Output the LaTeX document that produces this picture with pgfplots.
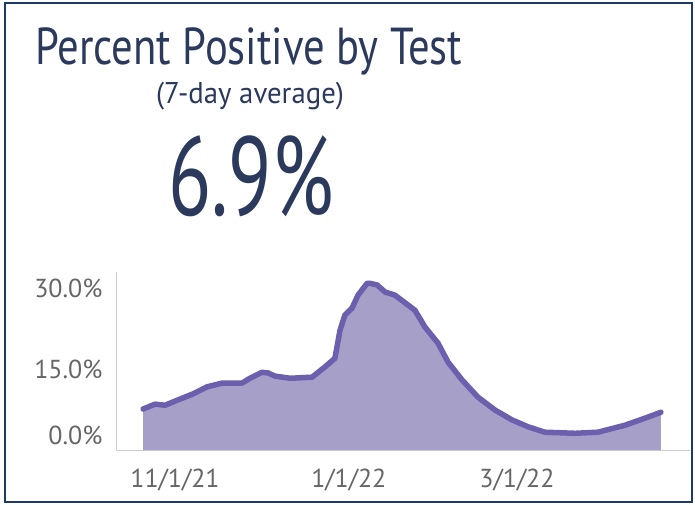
\documentclass[border=0pt]{standalone}
\usepackage{fontspec}
\setmainfont{PT Sans}
\usepackage{pgfplots}
\pgfplotsset{compat=1.18}
\usepackage{pgfplotstable}

\definecolor{navy}{HTML}{2B3A5C}
\definecolor{frame}{HTML}{1F3A66}
\definecolor{areafill}{HTML}{A69FC8}
\definecolor{linecol}{HTML}{6B5FAE}
\definecolor{ticktext}{HTML}{666666}
\definecolor{axisgray}{HTML}{CCCCCC}

% day 0 = 11/1/21, value in percent
\pgfplotstableread{
day value
-11.2 7.6
-7.0 8.5
-3.5 8.3
1.1 9.3
6.3 10.4
11.2 11.7
16.5 12.4
23.5 12.4
26.3 13.3
30.5 14.4
32.6 14.3
35.1 13.7
40.4 13.3
48.1 13.5
52.6 15.4
56.1 17.0
57.9 22.2
59.6 25.0
62.1 26.3
64.2 28.7
67.4 30.9
68.4 30.9
70.9 30.6
73.7 29.3
77.2 28.7
84.2 25.9
87.7 22.8
92.3 19.8
95.8 16.3
100.7 13.0
106.3 9.8
112.3 7.4
118.2 5.6
123.9 4.3
129.8 3.3
140.4 3.1
148.4 3.3
157.9 4.6
164.9 5.9
170.5 7.0
}\ppt

\begin{document}
\begin{tikzpicture}[x=1pt,y=1pt]
\path[use as bounding box] (0,0) rectangle (695,504);
\draw[frame, line width=2.5pt] (5,2) rectangle (692,501);

\node[anchor=base west, inner sep=0, text=navy, font=\fontsize{52}{58}\selectfont] at (35,439) {\scalebox{0.82}[1]{Percent Positive by Test}};
\node[anchor=base, inner sep=0, text=navy, font=\fontsize{30}{34}\selectfont] at (250,400) {\scalebox{0.96}[1]{(7-day average)}};
\node[anchor=base, inner sep=0, text=navy, font=\fontsize{112}{120}\selectfont] at (251,289) {\scalebox{0.71}[1]{6.9\%}};

\begin{axis}[
  at={(116pt,54pt)}, anchor=south west,
  scale only axis, width=574pt, height=178pt,
  xmin=-20.7, xmax=180.7, ymin=0, ymax=33,
  axis x line*=bottom, axis y line*=left,
  axis line style={draw=axisgray, line width=1pt, -},
  major tick length=0,
  xtick={0,61,120}, xticklabels={11/1/21,1/1/22,3/1/22},
  ytick={15,30}, yticklabels={15.0\%,30.0\%},
  extra y ticks={0}, extra y tick labels={0.0\%},
  extra y tick style={yticklabel style={yshift=15pt}},
  tick label style={text=ticktext, font=\fontsize{26}{30}\selectfont},
  xticklabel style={anchor=north, yshift=-15pt},
  yticklabel style={anchor=east, xshift=-10pt},
  clip=false,
]
\addplot[fill=areafill, draw=none] table[x=day, y=value] {\ppt} \closedcycle;
\addplot[linecol, line width=5.5pt, line join=round, line cap=round] table[x=day, y=value] {\ppt};
\end{axis}
\end{tikzpicture}
\end{document}
